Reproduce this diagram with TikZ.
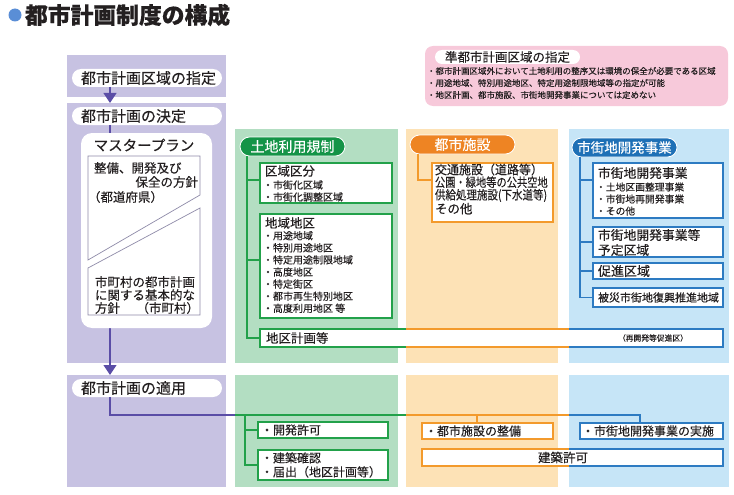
\documentclass[tikz,border=0pt]{standalone}
\usepackage{fontspec}
\usepackage{graphicx}
\setmainfont{Noto Sans CJK JP}[FakeBold=0.3]
\usetikzlibrary{arrows.meta}
\definecolor{purcol}{HTML}{C7C2E2}
\definecolor{purln}{HTML}{5A4DA6}
\definecolor{grncol}{HTML}{B3DEC2}
\definecolor{grnln}{HTML}{22A14A}
\definecolor{grnpill}{HTML}{149447}
\definecolor{orgcol}{HTML}{FDE2B6}
\definecolor{orgln}{HTML}{F39A2C}
\definecolor{orgpill}{HTML}{EE8423}
\definecolor{blucol}{HTML}{C6E5F7}
\definecolor{bluln}{HTML}{2D7BC2}
\definecolor{blupill}{HTML}{1E70B6}
\definecolor{pinkbg}{HTML}{F7C9DA}
\definecolor{txt}{HTML}{231F20}
\definecolor{ttlblue}{HTML}{5A8ED6}
\definecolor{mpline}{HTML}{8E8AA8}
\newcommand{\fs}[2]{\fontsize{#1}{#2}\selectfont}
\begin{document}
\begin{tikzpicture}[x=1pt,y=-1pt,
  every node/.style={inner sep=0pt, outer sep=0pt, text=txt},
  rect/.style={anchor=north west},
  wpill/.style={rect, fill=white, rounded corners=9pt, minimum height=18pt,
    text width=132pt, inner xsep=9pt, align=left, font=\fs{15}{16}},
  cpill/.style={rect, rounded corners=9.5pt, minimum height=19pt, text=white,
    font=\fs{14}{16}, draw=white, line width=0.8pt},
  gbox/.style={rect, fill=white, draw=grnln, line width=1.3pt},
  obox/.style={rect, fill=white, draw=orgln, line width=1.3pt},
  bbox/.style={rect, fill=white, draw=bluln, line width=1.3pt},
  purline/.style={draw=purln, line width=1.3pt},
  grnline/.style={draw=grnln, line width=1.3pt},
  orgline/.style={draw=orgln, line width=1.3pt},
  bluline/.style={draw=bluln, line width=1.3pt},
  purarrow/.style={purline, -{Triangle[width=13pt,length=10pt]}},
  lbl/.style={anchor=west, align=left}
]
\useasboundingbox (0,0) rectangle (734,495);

% title
\node[circle, fill=ttlblue, minimum size=13pt] (dot) at (15,15) {};
\node[anchor=west, font=\bfseries\fs{22.8}{26}] (ttl) at (25,15) {都市計画制度の構成};

% column backgrounds
\node[rect, fill=purcol, minimum width=159pt, minimum height=42pt] (pur1) at (67,55) {};
\node[rect, fill=purcol, minimum width=159pt, minimum height=260pt] (pur2) at (67,103) {};
\node[rect, fill=purcol, minimum width=159pt, minimum height=112pt] (pur3) at (67,375) {};
\node[rect, fill=grncol, minimum width=163pt, minimum height=234pt] (grn2) at (235,129) {};
\node[rect, fill=grncol, minimum width=163pt, minimum height=112pt] (grn3) at (235,375) {};
\node[rect, fill=orgcol, minimum width=152pt, minimum height=234pt] (org2) at (406,129) {};
\node[rect, fill=orgcol, minimum width=152pt, minimum height=112pt] (org3) at (406,375) {};
\node[rect, fill=blucol, minimum width=160pt, minimum height=234pt] (blu2) at (569,129) {};
\node[rect, fill=blucol, minimum width=160pt, minimum height=112pt] (blu3) at (569,375) {};

% pink box
\node[rect, fill=pinkbg, rounded corners=8pt, minimum width=303pt, minimum height=60pt] (pk) at (425,46) {};
\node[rect, fill=white, rounded corners=7pt, minimum width=145pt, minimum height=14pt, font=\fs{12.5}{14}] (pkt) at (435,50) {準都市計画区域の指定};
\node[lbl, font=\fs{8.5}{12}] (pkl) at (427,83) {・都市計画区域外において土地利用の整序又は環境の保全が必要である区域\\・用途地域、特別用途地区、特定用途制限地域等の指定が可能\\・地区計画、都市施設、市街地開発事業については定めない};

% purple column
\node[wpill] (pl1) at (72,69) {都市計画区域の指定};
\node[wpill] (pl2) at (72,107) {都市計画の決定};
\node[wpill] (pl3) at (72,379) {都市計画の適用};
\coordinate (sp) at (110,0);
\draw[purarrow] (sp |- pl1.south) -- (sp |- pur2.north);
\draw[purarrow] (sp |- pl2.south) -- (sp |- pur3.north);

% master plan
\node[rect, fill=white, rounded corners=11pt, minimum width=131pt, minimum height=195pt] (mp) at (81,133) {};
\node[font=\fs{14.5}{16}] (mpt) at (144,145) {マスタープラン};
\draw[mpline, line width=0.7pt] (88,156) -- (200,156) -- (200,195) -- (88,260) -- cycle;
\draw[mpline, line width=0.7pt] (88,268) -- (200,208) -- (200,315) -- (88,315) -- cycle;
\node[anchor=west, font=\fs{12.5}{14}] (mp1) at (94,168) {整備、開発及び};
\node[anchor=east, font=\fs{12.5}{14}] (mp2) at (198,182) {保全の方針};
\node[anchor=west, font=\fs{12.5}{14}] (mp3) at (88,197) {（都道府県）};
\node[lbl, font=\fs{12.5}{13}] (mp4) at (95,295) {市町村の都市計画\\に関する基本的な\\方針};
\node[anchor=east, font=\fs{12.5}{14}] (mp5) at (199,308) {（市町村）};

% green column
\node[cpill, fill=grnpill, minimum width=105pt] (gp) at (240,137) {土地利用規制};
\node[gbox, minimum width=132pt, minimum height=40pt] (g1) at (260,163) {};
\node[anchor=west, font=\fs{12.5}{14}] (g1t) at (265,171) {区域区分};
\node[lbl, font=\fs{10}{12}] (g1l) at (263,191) {・市街化区域\\・市街化調整区域};
\node[gbox, minimum width=132pt, minimum height=104pt] (g2) at (260,214) {};
\node[anchor=west, font=\fs{12.5}{14}] (g2t) at (265,223) {地域地区};
\node[lbl, font=\fs{10}{12.1}] (g2l) at (263,272) {・用途地域\\・特別用途地区\\・特定用途制限地域\\・高度地区\\・特定街区\\・都市再生特別地区\\・高度利用地区 等};
\node[rect, fill=white, minimum width=463pt, minimum height=18pt] (gk) at (260,329) {};
\coordinate (ox) at (406,0);
\coordinate (bx) at (569,0);
\draw[grnline] (gk.north west -| ox) -- (gk.north west) -- (gk.south west) -- (gk.south west -| ox);
\draw[orgline] (gk.north west -| ox) -- (gk.north west -| bx);
\draw[orgline] (gk.south west -| ox) -- (gk.south west -| bx);
\draw[bluline] (gk.north west -| bx) -- (gk.north east) -- (gk.south east) -- (gk.south west -| bx);
\node[anchor=west, font=\fs{12.5}{14}] (gkt) at (266,338) {地区計画等};
\node[font=\fs{7.8}{9}] (gkn) at (653,338) {（再開発等促進区）};
\coordinate (gs) at (247,0);
\coordinate (yg1) at (0,180);
\coordinate (yg2) at (0,260);
\draw[grnline] (gs |- gp.south) |- (gk.west);
\draw[grnline] (gs |- yg1) -- (g1.west |- yg1);
\draw[grnline] (gs |- yg2) -- (g2.west |- yg2);

% orange column
\node[cpill, fill=orgpill, minimum width=105pt] (op) at (410,135) {都市施設};
\node[obox, minimum width=121pt, minimum height=59pt] (o1) at (432,163) {};
\node[lbl, font=\fs{12.5}{12.6}] (o1t) at (435,189) {\scalebox{0.96}[1]{交通施設（道路等）}\\\scalebox{0.82}[1]{公園・緑地等の公共空地}\\\scalebox{0.84}[1]{供給処理施設(下水道等)}\\その他};
\coordinate (os) at (418,0);
\draw[orgline] (os |- op.south) |- (o1.west |- yg1);

% blue column
\node[cpill, fill=blupill, minimum width=105pt, font=\fs{13.5}{16}] (bp) at (572,138) {市街地開発事業};
\node[bbox, minimum width=130pt, minimum height=55pt] (b1) at (593,163) {};
\node[anchor=west, font=\fs{12.8}{14}] (b1t) at (598,173) {市街地開発事業};
\node[lbl, font=\fs{9.8}{12}] (b1l) at (596,199) {・土地区画整理事業\\・市街地再開発事業\\・その他};
\node[bbox, minimum width=130pt, minimum height=30pt] (b2) at (593,227) {};
\node[lbl, font=\fs{12.8}{15}] (b2t) at (598,242.5) {市街地開発事業等\\予定区域};
\node[bbox, minimum width=130pt, minimum height=16pt] (b3) at (593,263) {};
\node[anchor=west, font=\fs{13}{14}] (b3t) at (598,271) {促進区域};
\node[bbox, minimum width=130pt, minimum height=19pt] (b4) at (593,288) {};
\node[anchor=west, font=\fs{11}{13}] (b4t) at (598,297.5) {被災市街地復興推進地域};
\coordinate (bs) at (580,0);
\draw[bluline] (bs |- bp.south) |- (b4.west);
\draw[bluline] (bs |- yg1) -- (b1.west |- yg1);
\draw[bluline] (bs |- b2.west) -- (b2.west);
\draw[bluline] (bs |- b3.west) -- (b3.west);

% bottom row
\node[gbox, minimum width=130pt, minimum height=16pt] (gb1) at (258,422) {};
\node[anchor=west, font=\fs{12}{14}] (gb1t) at (261,430) {・開発許可};
\node[gbox, minimum width=130pt, minimum height=30pt] (gb2) at (258,450) {};
\node[lbl, font=\fs{12}{14}] (gb2t) at (261,465) {・建築確認\\・届出（地区計画等）};
\node[obox, minimum width=131pt, minimum height=16pt] (ob1) at (422,423) {};
\node[anchor=west, font=\fs{12}{14}] (ob1t) at (425,431) {・都市施設の整備};
\node[bbox, minimum width=143pt, minimum height=16pt] (bb1) at (580,423) {};
\node[anchor=west, font=\fs{12}{14}] (bb1t) at (582,431) {・市街地開発事業の実施};
\node[rect, fill=white, minimum width=301pt, minimum height=17pt] (kk) at (422,449) {};
\draw[orgline] (kk.north west -| bx) -- (kk.north west) -- (kk.south west) -- (kk.south west -| bx);
\draw[bluline] (kk.north west -| bx) -- (kk.north east) -- (kk.south east) -- (kk.south west -| bx);
\node[font=\fs{12.5}{14}] (kkt) at (563,457.5) {建築許可};

\coordinate (hy) at (0,415);
\coordinate (gx) at (245,0);
\coordinate (oxx) at (477,0);
\coordinate (bxx) at (640,0);
\draw[purline] (sp |- pl3.south) |- (grn3.west |- hy);
\draw[grnline] (grn3.west |- hy) -- (org3.west |- hy);
\draw[orgline] (org3.west |- hy) -- (blu3.west |- hy);
\draw[bluline] (blu3.west |- hy) -| (bxx |- bb1.north);
\draw[grnline] (gx |- hy) |- (gb2.west);
\draw[grnline] (gx |- gb1.west) -- (gb1.west);
\draw[orgline] (oxx |- hy) -- (oxx |- ob1.north);
\end{tikzpicture}
\end{document}
